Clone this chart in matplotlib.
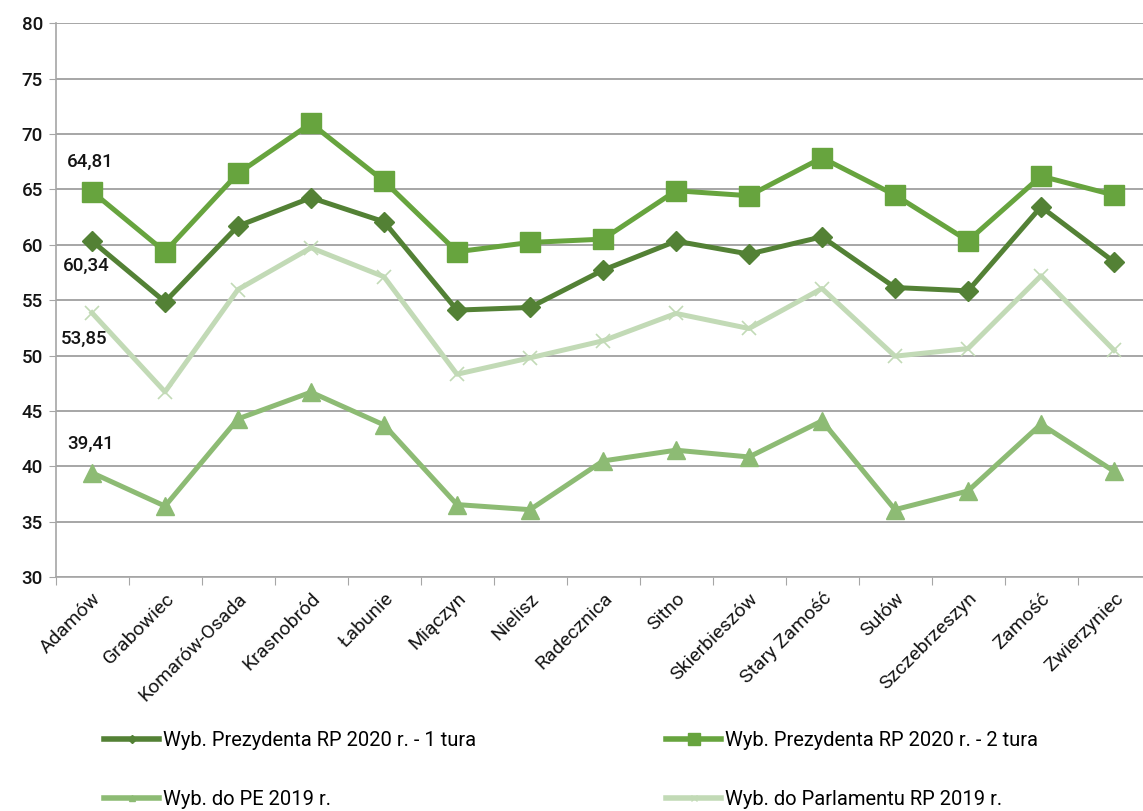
import matplotlib
matplotlib.use("Agg")
import matplotlib.pyplot as plt
from matplotlib.lines import Line2D

categories = ["Adamów", "Grabowiec", "Komarów-Osada", "Krasnobród", "Łabunie", "Miączyn",
              "Nielisz", "Radecznica", "Sitno", "Skierbieszów", "Stary Zamość", "Sułów",
              "Szczebrzeszyn", "Zamość", "Zwierzyniec"]
tura1 = [60.34, 54.85, 61.69, 64.25, 62.08, 54.10, 54.34, 57.71, 60.33, 59.16, 60.72, 56.14, 55.84, 63.43, 58.46]
tura2 = [64.81, 59.37, 66.45, 70.96, 65.75, 59.37, 60.21, 60.51, 64.88, 64.43, 67.86, 64.49, 60.36, 66.20, 64.49]
pe2019 = [39.41, 36.40, 44.28, 46.69, 43.73, 36.54, 36.08, 40.48, 41.45, 40.84, 44.10, 36.08, 37.77, 43.80, 39.55]
parl2019 = [53.85, 46.72, 55.96, 59.73, 57.11, 48.31, 49.79, 51.33, 53.80, 52.44, 56.05, 49.94, 50.63, 57.20, 50.48]
series_names = ["Wyb. Prezydenta RP 2020 r. - 1 tura", "Wyb. Prezydenta RP 2020 r. - 2 tura",
                "Wyb. do PE 2019 r.", "Wyb. do Parlamentu RP 2019 r."]
yticks = [30, 35, 40, 45, 50, 55, 60, 65, 70, 75, 80]

plt.rcParams['font.family'] = ['Roboto', 'DejaVu Sans']

W, H = 1143, 811
fig = plt.figure(figsize=(W / 100, H / 100), dpi=100)
ax = fig.add_axes([55.5 / W, 1 - 577 / H, 1095 / W, (577 - 23.3) / H])

c1 = "#538135"
c2 = "#67A43E"
c3 = "#8DBB74"
c4 = "#C2DAB6"
txt = "#141414"

x = list(range(len(categories)))
ax.plot(x, pe2019, color=c3, lw=3.6, marker="^", ms=13, mec=c3, mfc=c3, zorder=3)
ax.plot(x, parl2019, color=c4, lw=3.6, marker="x", ms=10, mew=1.2, mec=c4, zorder=3)
ax.plot(x, tura1, color=c1, lw=3.6, marker="D", ms=10, mec=c1, mfc=c1, zorder=4)
ax.plot(x, tura2, color=c2, lw=3.6, marker="s", ms=14, mec=c2, mfc=c2, zorder=4)

ax.set_xlim(-0.5, len(categories) - 0.5)
ax.set_ylim(30, 80)
ax.set_yticks(yticks)
ax.set_yticklabels([str(v) for v in yticks], fontsize=13.5, fontweight="medium", color=txt)
ax.yaxis.grid(True, color="#A6A6A6", lw=1.4)
ax.set_axisbelow(True)
ax.tick_params(axis="y", length=5, color="#A6A6A6", pad=4)

ax.set_xticks([i + 0.5 for i in range(-1, len(categories))], minor=False)
ax.set_xticklabels([])
ax.set_xticks(x, minor=True)
ax.set_xticklabels(categories, minor=True, rotation=45, ha="right", rotation_mode="anchor",
                   fontsize=14, color=txt)
ax.tick_params(axis="x", which="major", length=6, color="#A6A6A6")
ax.tick_params(axis="x", which="minor", length=0, pad=9)

for s in ["top", "right"]:
    ax.spines[s].set_visible(False)
for s in ["left", "bottom"]:
    ax.spines[s].set_color("#A6A6A6")
    ax.spines[s].set_linewidth(1.2)

lbl_kw = dict(fontsize=13.5, fontweight="medium", color=txt, ha="center", va="center")
ax.annotate(f"{tura2[0]:.2f}".replace(".", ","), (0, tura2[0]), xytext=(-1, 21), textcoords="offset points", **lbl_kw)
ax.annotate(f"{tura1[0]:.2f}".replace(".", ","), (0, tura1[0]), xytext=(-4, -18), textcoords="offset points", **lbl_kw)
ax.annotate(f"{parl2019[0]:.2f}".replace(".", ","), (0, parl2019[0]), xytext=(-6, -19), textcoords="offset points", **lbl_kw)
ax.annotate(f"{pe2019[0]:.2f}".replace(".", ","), (0, pe2019[0]), xytext=(-1, 21), textcoords="offset points", **lbl_kw)

handles = [
    Line2D([], [], color=c1, lw=4, marker="D", ms=4),
    Line2D([], [], color=c3, lw=4, marker="^", ms=5),
    Line2D([], [], color=c2, lw=4, marker="s", ms=8),
    Line2D([], [], color=c4, lw=4, marker="x", ms=5),
]
labels = [series_names[0], series_names[2], series_names[1], series_names[3]]
fig.legend(handles, labels, ncol=2, loc="upper left", bbox_to_anchor=(104 / W, 1 - 731 / H),
           frameon=False, fontsize=14.5, handlelength=2.75, handletextpad=0.2,
           columnspacing=9.4, labelspacing=2.0, borderaxespad=0, borderpad=0)

fig.savefig("out.png", dpi=100)
